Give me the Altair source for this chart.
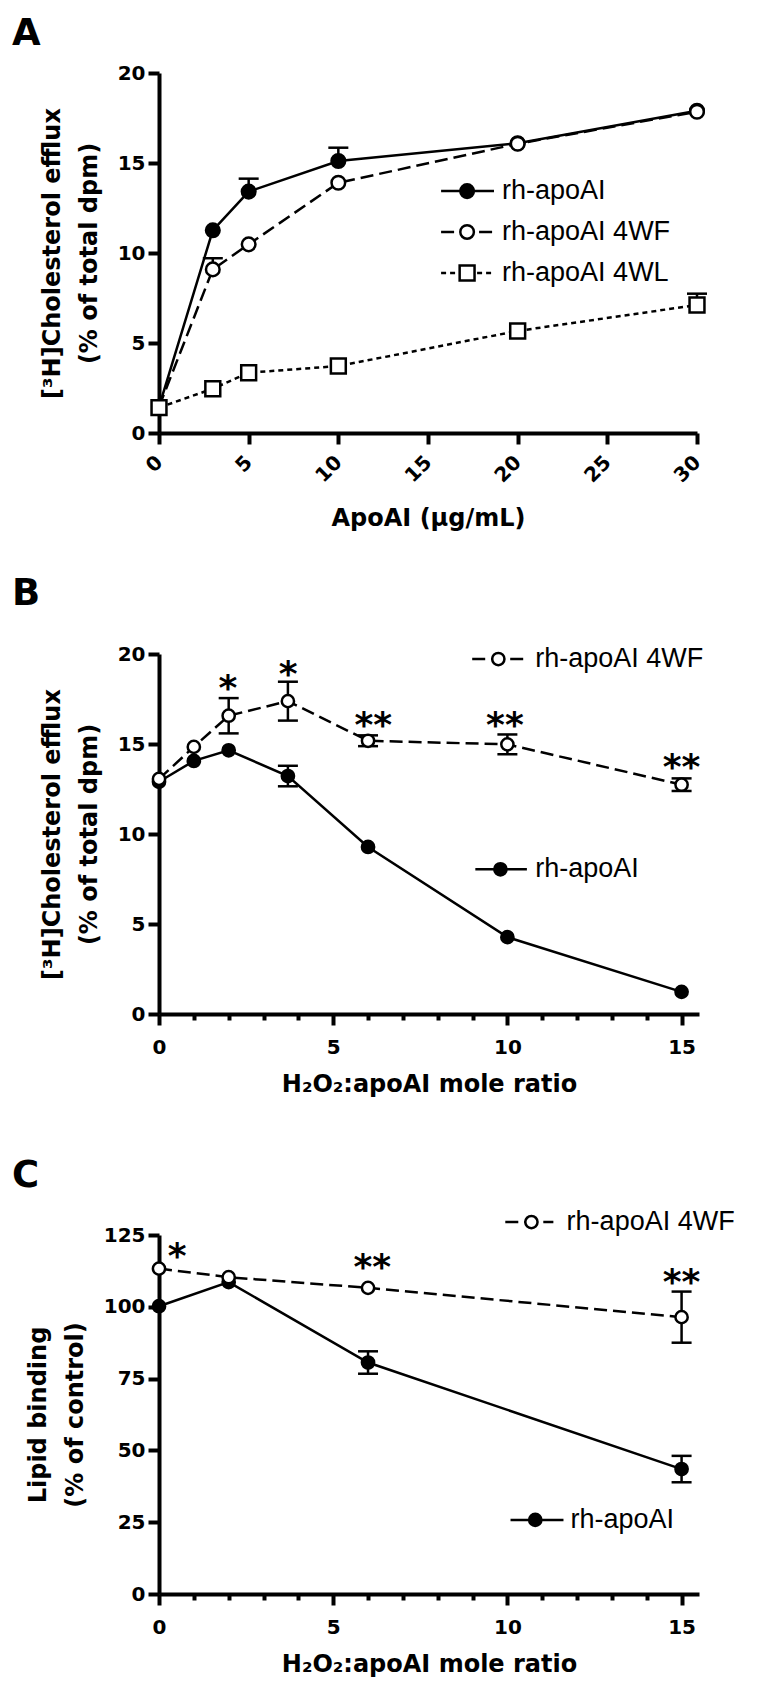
import altair as alt
import pandas as pd

FONT = "DejaVu Sans"
LEG_FONT = "Liberation Sans"

# ---------------- Panel A : efflux vs apoAI concentration ----------------
a_x = [0, 3, 5, 10, 20, 30]
a_wt = [1.45, 11.26, 13.41, 15.11, 16.10, 17.90]
a_wt_err = [0, 0, 0.72, 0.74, 0, 0]
a_wf = [1.45, 9.09, 10.48, 13.90, 16.07, 17.85]
a_wf_err = [0, 0.62, 0, 0, 0, 0]
a_wl = [1.41, 2.46, 3.35, 3.72, 5.67, 7.11]
a_wl_err = [0, 0, 0, 0, 0, 0.63]
a_xticks = [0, 5, 10, 15, 20, 25, 30]
a_yticks = [0, 5, 10, 15, 20]
a_leg_series = ["wt", "wf", "wl"]
a_leg_labels = ["rh-apoAI", "rh-apoAI 4WF", "rh-apoAI 4WL"]
a_leg_y = [13.44, 11.17, 8.89]
a_leg_x0 = [15.73, 15.73, 15.73]
a_leg_x1 = [18.68, 18.68, 18.68]
a_leg_xm = [17.18, 17.18, 17.18]
a_leg_xt = [19.13, 19.13, 19.13]

# ---------------- Panel B : efflux vs H2O2 ratio ----------------
b_x = [0, 1, 2, 3.7, 6, 10, 15]
b_wt = [12.90, 14.06, 14.65, 13.22, 9.28, 4.27, 1.23]
b_wt_err = [0, 0, 0, 0.57, 0, 0, 0]
b_wf = [13.06, 14.84, 16.57, 17.38, 15.18, 14.98, 12.74]
b_wf_err = [0, 0, 0.98, 1.08, 0.30, 0.55, 0.35]
b_star_x = [1.98, 3.71, 6.15, 9.93, 15.0]
b_star_y = [18.6, 19.4, 16.55, 16.55, 14.2]
b_star_t = ["*", "*", "**", "**", "**"]
b_leg_series = ["wf", "wt"]
b_leg_labels = ["rh-apoAI 4WF", "rh-apoAI"]
b_leg_y = [19.72, 8.04]
b_leg_x0 = [8.99, 9.08]
b_leg_x1 = [10.57, 10.56]
b_leg_xm = [9.74, 9.80]
b_leg_xt = [10.80, 10.80]

# ---------------- Panel C : lipid binding ----------------
c_x = [0, 2, 6, 15]
c_wt = [100.2, 108.6, 80.6, 43.5]
c_wt_err = [0, 0, 3.9, 4.6]
c_wf = [113.3, 110.3, 106.6, 96.4]
c_wf_err = [0, 0, 0, 8.9]
c_star_x = [0.52, 6.12, 15.0]
c_star_y = [120.8, 117.0, 111.7]
c_star_t = ["*", "**", "**"]
c_leg_series = ["wf", "wt"]
c_leg_labels = ["rh-apoAI 4WF", "rh-apoAI"]
c_leg_y = [129.5, 25.8]
c_leg_x0 = [9.94, 10.09]
c_leg_x1 = [11.32, 11.61]
c_leg_xm = [10.69, 10.80]
c_leg_xt = [11.70, 11.81]

hx_ticks = list(range(0, 16))
hx_label_every = 5

STYLE = {
    "wt": {"dash": None, "shape": "circle", "fill": "black"},
    "wf": {"dash": [13, 6], "shape": "circle", "fill": "white"},
    "wl": {"dash": [5, 4], "shape": "square", "fill": "white"},
}


def line_kw(key):
    kw = dict(color="black", strokeWidth=2.5)
    if STYLE[key]["dash"] is not None:
        kw["strokeDash"] = STYLE[key]["dash"]
    return kw


def build_panel(letter, letter_y, xdom, ydom, width, height, xaxis, yaxis,
                xs, series, two_sided, msize, legend, stars):
    X = lambda f: alt.X(f"{f}:Q", scale=alt.Scale(domain=xdom, nice=False, zero=False), axis=xaxis)
    Y = lambda f: alt.Y(f"{f}:Q", scale=alt.Scale(domain=ydom, nice=False, zero=False), axis=yaxis)
    layers = []
    # lines
    for key, vals, errs in series:
        d = pd.DataFrame({"x": xs, "y": vals})
        layers.append(alt.Chart(d).mark_line(**line_kw(key)).encode(x=X("x"), y=Y("y")))
    # error bars
    for key, vals, errs in series:
        rows = [(x, v, e) for x, v, e in zip(xs, vals, errs) if e > 0]
        if not rows:
            continue
        d = pd.DataFrame(rows, columns=["x", "y", "e"])
        d["hi"] = d["y"] + d["e"]
        d["lo"] = d["y"] - d["e"] if two_sided else d["y"]
        layers.append(alt.Chart(d).mark_rule(color="black", strokeWidth=2.5).encode(
            x=X("x"), y=Y("lo"), y2="hi:Q"))
        cap = alt.Chart(d).mark_point(shape="M-1,0L1,0", size=400, filled=False,
                                      stroke="black", strokeWidth=2.5, opacity=1)
        layers.append(cap.encode(x=X("x"), y=Y("hi")))
        if two_sided:
            layers.append(cap.encode(x=X("x"), y=Y("lo")))
    # markers
    for key, vals, errs in series:
        d = pd.DataFrame({"x": xs, "y": vals})
        st = STYLE[key]
        size = msize if st["shape"] == "circle" else msize * 1.2
        layers.append(alt.Chart(d).mark_point(
            shape=st["shape"], size=size, filled=True, fill=st["fill"], stroke="black",
            strokeWidth=2.5, opacity=1).encode(x=X("x"), y=Y("y")))
    # legend
    ser, labels, ly, lx0, lx1, lxm, lxt = legend
    for i, key in enumerate(ser):
        d = pd.DataFrame({"x0": [lx0[i]], "x1": [lx1[i]], "xm": [lxm[i]], "xt": [lxt[i]],
                          "y": [ly[i]], "label": [labels[i]]})
        st = STYLE[key]
        layers.append(alt.Chart(d).mark_rule(**line_kw(key)).encode(
            x=X("x0"), x2="x1:Q", y=Y("y")))
        size = msize if st["shape"] == "circle" else msize * 1.2
        layers.append(alt.Chart(d).mark_point(
            shape=st["shape"], size=size, filled=True, fill=st["fill"], stroke="black",
            strokeWidth=2.5, opacity=1).encode(x=X("xm"), y=Y("y")))
        layers.append(alt.Chart(d).mark_text(
            align="left", baseline="middle", font=LEG_FONT, fontSize=27, color="black").encode(
            x=X("xt"), y=Y("y"), text="label:N"))
    # significance stars
    if stars is not None:
        sx, sy, stx = stars
        d = pd.DataFrame({"x": sx, "y": sy, "t": stx})
        layers.append(alt.Chart(d).mark_text(
            align="center", baseline="middle", font=FONT, fontSize=36, fontWeight="bold",
            color="black", dy=10).encode(x=X("x"), y=Y("y"), text="t:N"))
    # panel letter
    d = pd.DataFrame({"t": [letter]})
    layers.append(alt.Chart(d).mark_text(
        align="left", baseline="top", font=FONT, fontSize=37, fontWeight="bold",
        color="black").encode(x=alt.value(-147), y=alt.value(letter_y), text="t:N"))
    return alt.layer(*layers).properties(width=width, height=height)


common_axis = dict(grid=False, domainWidth=4, domainColor="black", tickColor="black",
                   tickWidth=4, tickSize=11, labelColor="black", titleColor="black",
                   labelFont=FONT, titleFont=FONT, labelFontWeight="bold",
                   titleFontWeight="bold", labelFontSize=20, titleFontSize=24,
                   labelFlush=False, labelOverlap=False)

yaxis_eff = alt.Axis(values=a_yticks, tickSize=11, labelPadding=3, titlePadding=16,
                     title=["[³H]Cholesterol efflux", "(% of total dpm)"], titleLineHeight=37,
                     domainWidth=4, domainColor="black", tickWidth=4, tickColor="black")
xaxis_a = alt.Axis(values=a_xticks, tickSize=11, labelAngle=315, labelAlign="right",
                   labelBaseline="middle", labelPadding=15, titlePadding=21,
                   title="ApoAI (μg/mL)",
                   domainWidth=4, domainColor="black", tickWidth=4, tickColor="black")
xaxis_h = alt.Axis(values=hx_ticks,
                   tickSize={"condition": {"test": f"datum.value % {hx_label_every} === 0", "value": 11}, "value": 6},
                   labelExpr=f"datum.value % {hx_label_every} === 0 ? datum.label : ''",
                   labelPadding=12, titlePadding=15, title="H₂O₂:apoAI mole ratio",
                   domainWidth=4, domainColor="black", tickWidth=4, tickColor="black")
yaxis_c = alt.Axis(values=[0, 25, 50, 75, 100, 125], tickSize=11, labelPadding=3, titlePadding=16,
                   title=["Lipid binding", "(% of control)"], titleLineHeight=37,
                   domainWidth=4, domainColor="black", tickWidth=4, tickColor="black")

panel_a = build_panel(
    "A", -57, [0, 30], [0, 20], 538, 360, xaxis_a, yaxis_eff, a_x,
    [("wt", a_wt, a_wt_err), ("wf", a_wf, a_wf_err), ("wl", a_wl, a_wl_err)],
    False, 185,
    (a_leg_series, a_leg_labels, a_leg_y, a_leg_x0, a_leg_x1, a_leg_xm, a_leg_xt), None)

panel_b = build_panel(
    "B", -78, [0, 15.5], [0, 20], 540, 360, xaxis_h, yaxis_eff, b_x,
    [("wt", b_wt, b_wt_err), ("wf", b_wf, b_wf_err)],
    True, 150,
    (b_leg_series, b_leg_labels, b_leg_y, b_leg_x0, b_leg_x1, b_leg_xm, b_leg_xt),
    (b_star_x, b_star_y, b_star_t))

panel_c = build_panel(
    "C", -77, [0, 15.5], [0, 125], 540, 359, xaxis_h, yaxis_c, c_x,
    [("wt", c_wt, c_wt_err), ("wf", c_wf, c_wf_err)],
    True, 150,
    (c_leg_series, c_leg_labels, c_leg_y, c_leg_x0, c_leg_x1, c_leg_xm, c_leg_xt),
    (c_star_x, c_star_y, c_star_t))

chart = alt.vconcat(panel_a, panel_b, panel_c, spacing=221, bounds="flush").properties(
    padding={"left": 4, "top": 7, "right": 5, "bottom": 5},
    background="white",
).configure_view(stroke=None).configure_axis(**common_axis)

chart.save("out.html", embed_options={"renderer": "svg", "actions": False})
